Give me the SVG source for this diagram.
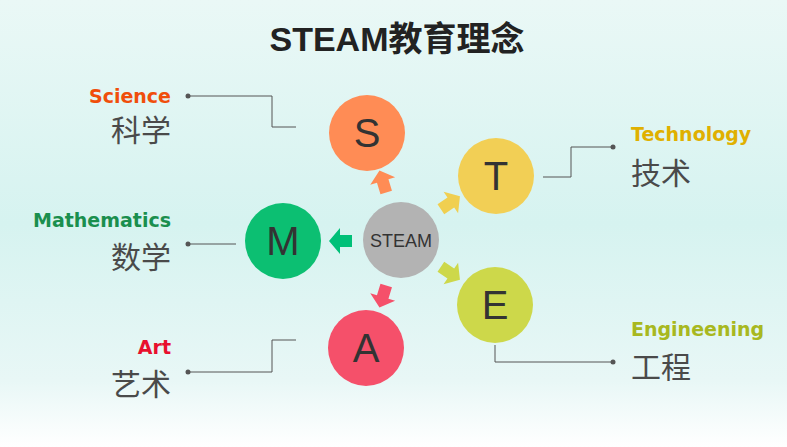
<svg xmlns="http://www.w3.org/2000/svg" width="787" height="447" viewBox="0 0 787 447">
<defs>
<linearGradient id="bg" x1="0" y1="0" x2="0" y2="1"><stop offset="0" stop-color="#eaf8f6"/><stop offset="0.5" stop-color="#d6f3f0"/><stop offset="0.85" stop-color="#e8f7f6"/><stop offset="1" stop-color="#ffffff"/></linearGradient>
<path id="arr" d="M-11,-6 L1,-6 L1,-13 L12,0 L1,13 L1,6 L-11,6 Z"/>
</defs>
<style>
.l{font-family:"DejaVu Sans",sans-serif;font-weight:bold;font-size:19px}
.c{font-family:"Noto Sans CJK SC",sans-serif;font-size:30px;fill:#4a4a4a}
.b{font-family:"Liberation Sans",Arial,sans-serif;font-size:40px;fill:#333;text-anchor:middle}
.ln{fill:none;stroke:#555;stroke-width:1}
</style>
<rect width="787" height="447" fill="url(#bg)"/>
<text x="397" y="51" text-anchor="middle" style="font-family:'Liberation Sans','Noto Sans CJK SC',sans-serif;font-weight:bold;font-size:34px" fill="#222">STEAM教育理念</text>
<g id="connectors">
<path class="ln" d="M188,96 H272 V127 H296"/><circle cx="188" cy="96" r="2.5" fill="#555"/>
<path class="ln" d="M613,147 H571 V177 H543"/><circle cx="613" cy="147" r="2.5" fill="#555"/>
<path class="ln" d="M188,244 H236"/><circle cx="188" cy="244" r="2.5" fill="#555"/>
<path class="ln" d="M188,372 H272 V340 H296"/><circle cx="188" cy="372" r="2.5" fill="#555"/>
<path class="ln" d="M495,345 V362 H613"/><circle cx="613" cy="362" r="2.5" fill="#555"/>
<use href="#arr" fill="#00c078" transform="translate(341,241) rotate(180)"/>
<use href="#arr" fill="#ff8c55" transform="translate(383,182) rotate(-107)"/>
<use href="#arr" fill="#f0cf50" transform="translate(450,203) rotate(-34)"/>
<use href="#arr" fill="#cdd84a" transform="translate(450,273) rotate(34)"/>
<use href="#arr" fill="#f5506a" transform="translate(383,296) rotate(107)"/>
</g>
<g id="steam"><circle cx="401" cy="240" r="38" fill="#b3b3b3"/><text x="401" y="247" text-anchor="middle" style="font-family:'Liberation Sans',Arial,sans-serif;font-size:18px" fill="#333">STEAM</text></g>
<g id="S"><circle cx="367" cy="133" r="38" fill="#ff8c55"/><text class="b" x="367" y="147">S</text></g>
<g id="T"><circle cx="496" cy="176" r="38" fill="#f2cf55"/><text class="b" x="496" y="190">T</text></g>
<g id="M"><circle cx="283" cy="241" r="38" fill="#0cbf72"/><text class="b" x="283" y="255">M</text></g>
<g id="E"><circle cx="495" cy="305" r="38" fill="#cdd84a"/><text class="b" x="495" y="319">E</text></g>
<g id="A"><circle cx="366" cy="348" r="38" fill="#f5506a"/><text class="b" x="366" y="362">A</text></g>
<g id="science"><text class="l" x="171" y="103" text-anchor="end" fill="#f04e0b">Science</text><text class="c" x="171" y="141" text-anchor="end">科学</text></g>
<g id="technology"><text class="l" x="631" y="141" fill="#e0b000">Technology</text><text class="c" x="631" y="184">技术</text></g>
<g id="mathematics"><text class="l" x="171" y="227" text-anchor="end" fill="#1a8f4e">Mathematics</text><text class="c" x="171" y="268" text-anchor="end">数学</text></g>
<g id="art"><text class="l" x="171" y="354" text-anchor="end" fill="#e8102e">Art</text><text class="c" x="171" y="395" text-anchor="end">艺术</text></g>
<g id="engineering"><text class="l" x="631" y="336" fill="#a8b820">Engineening</text><text class="c" x="631" y="378">工程</text></g>
</svg>
